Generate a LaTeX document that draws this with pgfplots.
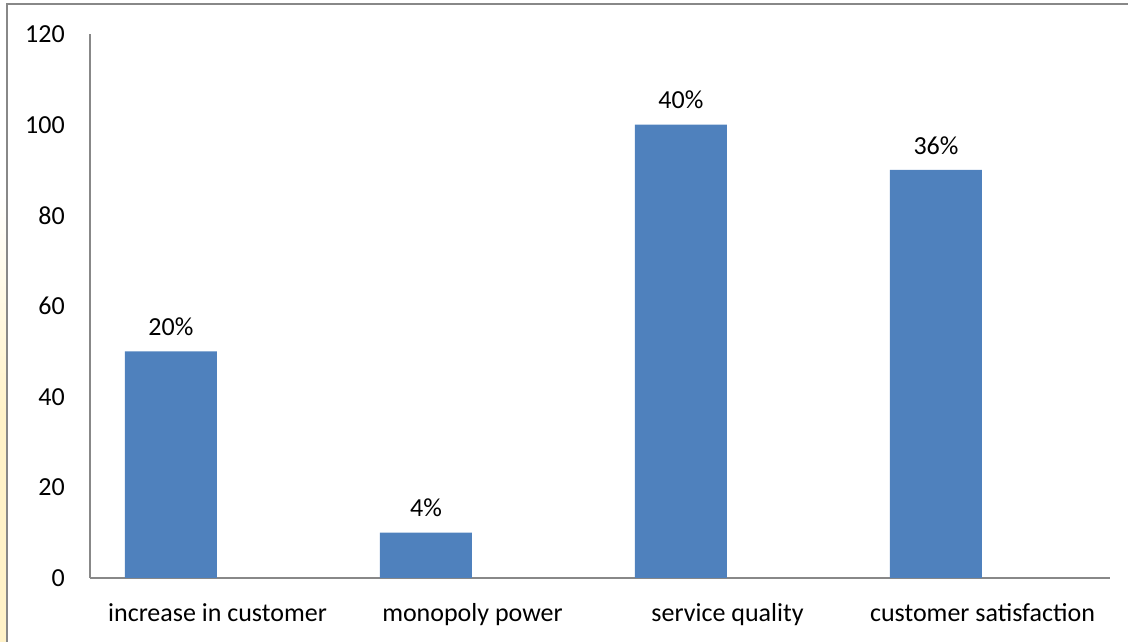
\documentclass[border=0pt]{standalone}
\usepackage{pgfplots}
\pgfplotsset{compat=1.18}
\usepackage{fontspec}
\setmainfont{Carlito}
\definecolor{barblue}{HTML}{4F81BD}
\definecolor{axisgray}{HTML}{888888}
\definecolor{paleyellow}{HTML}{FFF2C8}
\begin{document}
\begin{tikzpicture}[x=1pt,y=1pt]
  % page extent
  \useasboundingbox (-67.5,-48) rectangle (778.5,433.5);
  % soft strip at the left edge
  \shade[top color=white, bottom color=paleyellow, middle color=paleyellow]
    (-67.5,-48) rectangle (-63,291);
  % frame of the chart area
  \draw[axisgray, line width=1.2pt] (-62.25,-60) -- (-62.25,430.5) -- (790,430.5);
  \begin{axis}[
      at={(0,0)}, anchor=south west,
      scale only axis,
      width=765pt, height=408pt,
      xmin=0.5, xmax=4.5,
      ymin=0, ymax=120,
      ytick={0,20,...,120},
      xtick={1,2,3,4},
      xticklabels={increase in customer, monopoly power, service quality, customer satisfaction},
      axis x line*=bottom,
      axis y line*=left,
      axis line style={axisgray, line width=0.9pt, -},
      major tick length=0pt,
      tick label style={font=\fontsize{19.5}{23}\selectfont, black},
      /pgf/number format/assume math mode=true,
      yticklabel style={anchor=east, xshift=-15.4pt},
      xticklabel style={anchor=base, yshift=-33pt},
      ybar,
      bar width=69pt,
      bar shift=-34.9pt,
      nodes near coords,
      point meta=explicit symbolic,
      every node near coord/.append style={font=\fontsize{19.5}{23}\selectfont, black, yshift=8.3pt},
      clip=false,
    ]
    \addplot[fill=barblue, draw=none] coordinates {
      (1,50) [20\%]
      (2,10) [4\%]
      (3,100) [40\%]
      (4,90) [36\%]
    };
  \end{axis}
\end{tikzpicture}
\end{document}
